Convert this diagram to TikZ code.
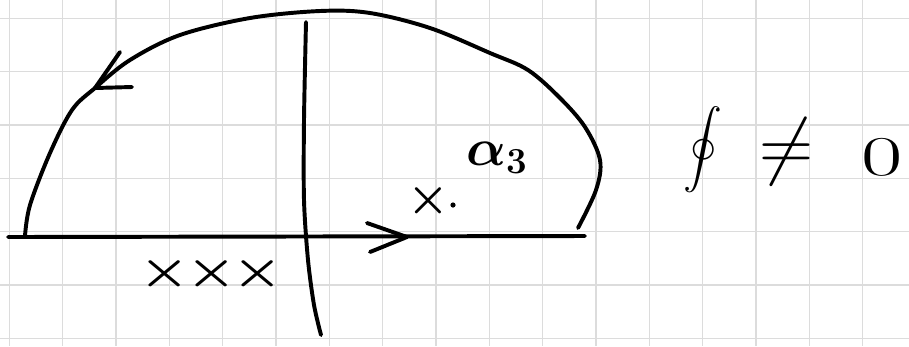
\RequirePackage{fix-cm}
\documentclass[tikz,border=0pt]{standalone}
\usepackage{amsmath}
\usepackage{tikz}
\usetikzlibrary{arrows.meta, positioning}
\definecolor{Ink}{HTML}{000000}
\definecolor{Paper}{HTML}{DCDCDC}

\begin{document}
\begin{tikzpicture}[
      x=0.01875cm, y=-0.01875cm,
      gridline/.style={draw=Paper, line width=0.8pt},
      pen/.style={draw=Ink, line width=2.1pt, line cap=round, line join=round},
      pole/.style={inner sep=0pt, font=\boldmath\fontsize{25}{28}\selectfont},
      lbl/.style={inner sep=0pt, font=\boldmath\fontsize{28}{32}\selectfont},
      big/.style={inner sep=0pt, font=\fontsize{40}{44}\selectfont}]

    \useasboundingbox (0,0) rectangle (909,346);

    % squared paper
    \foreach \i in {0,...,16}
      \draw[gridline] ({9.3+53.33*\i},0) -- ({9.3+53.33*\i},346);
    \foreach \j in {0,...,6}
      \draw[gridline] (0,{18.3+53.33*\j}) -- (909,{18.3+53.33*\j});

    % axes
    \coordinate (reL) at (8,237);
    \coordinate (reR) at (585,236);
    \coordinate (imT) at (306,22);
    \draw[pen] (reL) -- (reR);
    \draw[pen] plot[smooth] coordinates {(imT) (304,120) (304,200) (308,260) (314,305) (321,335)};

    % contour
    \draw[pen] plot[smooth, tension=0.55] coordinates {
        (25,236) (30,205) (50,153) (72,110) (95,88) (130,60) (180,35)
        (250,18) (320,11) (370,13) (430,28) (490,53) (528,70) (560,98)
        (585,127) (600,160) (596,190) (578,228)};

    % hand-drawn arrowheads
    \coordinate (arcTip) at (95,88);
    \coordinate (reTip) at (407,237);
    \draw[pen] (120,52) -- (arcTip) -- (132,87);
    \draw[pen] (367,223) -- (reTip) -- (370,252);

    % poles and labels
    \foreach \x/\n in {165/a, 212/b, 258/c}
      \node[pole, xscale=1.2] (pole\n) at (\x,274) {$\times$};
    \node[pole] (poleA) at (428,201) {$\times$};
    \fill[Ink] (453,205) circle (2.6);
    \node[lbl] (alpha) at (497,158) {$\alpha_3$};
    \node[inner sep=0pt, font=\fontsize{21}{24}\selectfont] (oint) at (703,150) {$\displaystyle\oint$};
    \node[big] (neq) at (786,152) {$\neq$};
    \node[big, font=\fontsize{30}{34}\selectfont, xscale=1.6] (zero) at (882,157) {$0$};
\end{tikzpicture}
\end{document}
